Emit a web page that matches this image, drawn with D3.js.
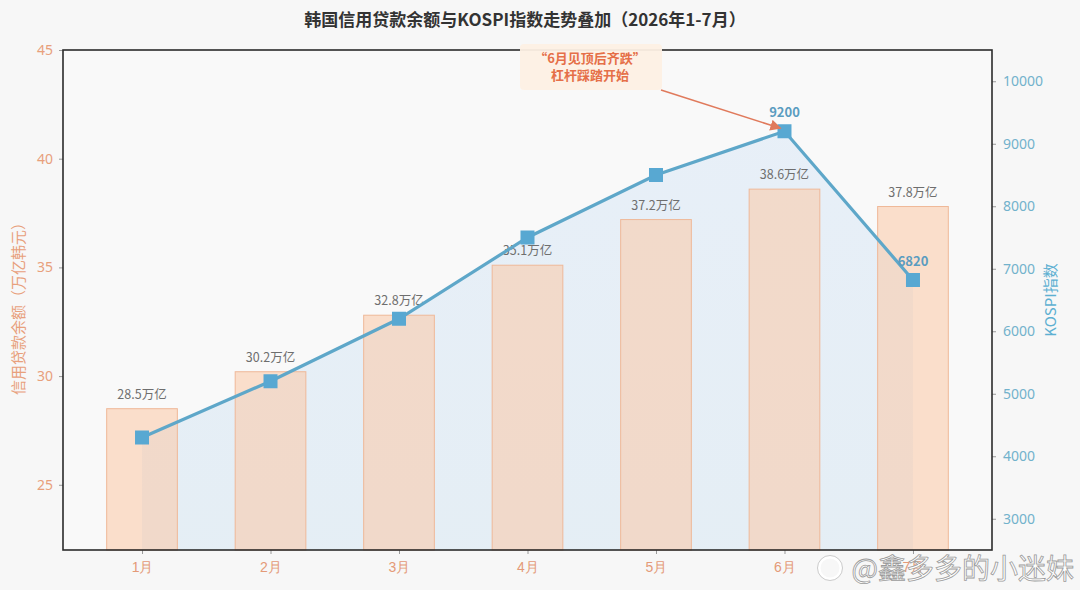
<!DOCTYPE html>
<html><head><meta charset="utf-8">
<script src="https://cdn.jsdelivr.net/npm/d3@7"></script>
<style>
body{margin:0;background:#f7f7f7;font-family:"Noto Sans CJK SC","Noto Sans",sans-serif;}
</style></head>
<body><svg id="c" width="1080" height="590"></svg>
<script>
const months = ["1月","2月","3月","4月","5月","6月","7月"];
const credit = [28.5,30.2,32.8,35.1,37.2,38.6,37.8];
const kospi = [4300,5200,6200,7500,8500,9200,6820];
const creditLabels = ["28.5万亿","30.2万亿","32.8万亿","35.1万亿","37.2万亿","38.6万亿","37.8万亿"];
const leftTicks = [25,30,35,40,45];
const rightTicks = [3000,4000,5000,6000,7000,8000,9000,10000];
const kospiLabelled = ["6月","7月"];

const svg = d3.select("#c");
const m = {l:63, r:88, t:50, b:40};
const W = 1080, H = 590;
const w = W - m.l - m.r, h = H - m.t - m.b;

svg.append("rect").attr("width",W).attr("height",H).attr("fill","#f7f7f7");
const g = svg.append("g").attr("transform",`translate(${m.l},${m.t})`);
g.append("rect").attr("width",w).attr("height",h).attr("fill","#f9f9f9");

const x = d3.scalePoint().domain(months).range([0,w]).padding(0.615);
const step = x.step();
const bw = step*0.55;
const yL = d3.scaleLinear().domain([22,45]).range([h,0]);
const yR = d3.scaleLinear().domain([2500,10500]).range([h,0]);

const defs = svg.append("defs");
const grad = defs.append("linearGradient").attr("id","ag").attr("x1",0).attr("y1",0).attr("x2",0).attr("y2",1);
grad.append("stop").attr("offset","0%").attr("stop-color","#e0ebf7").attr("stop-opacity",0.7);
grad.append("stop").attr("offset","100%").attr("stop-color","#e1ecf4").attr("stop-opacity",0.85);

const data = months.map((mo,i)=>({m:mo,c:credit[i],k:kospi[i],cl:creditLabels[i]}));
g.append("path").datum(data)
  .attr("d", d3.area().x(d=>x(d.m)).y0(h).y1(d=>yR(d.k)))
  .attr("fill","url(#ag)");

g.selectAll(".bar").data(data).join("rect")
  .attr("x",d=>x(d.m)-bw/2).attr("y",d=>yL(d.c))
  .attr("width",bw).attr("height",d=>h-yL(d.c))
  .attr("fill","#fcc9a6").attr("fill-opacity",0.55)
  .attr("stroke","#efb898").attr("stroke-width",1);

g.selectAll(".bl").data(data).join("text")
  .attr("x",d=>x(d.m)).attr("y",d=>yL(d.c)-10)
  .attr("text-anchor","middle").attr("font-size",12.5).attr("fill","#6e6e6e")
  .text(d=>d.cl);

g.append("path").datum(data)
  .attr("d", d3.line().x(d=>x(d.m)).y(d=>yR(d.k)))
  .attr("fill","none").attr("stroke","#5ea7c9").attr("stroke-width",3.2);
g.selectAll(".pt").data(data).join("rect")
  .attr("x",d=>x(d.m)-7).attr("y",d=>yR(d.k)-7).attr("width",14).attr("height",14)
  .attr("fill","#58a8d2");
g.selectAll(".kl").data(data.filter(d=>kospiLabelled.includes(d.m))).join("text")
  .attr("x",d=>x(d.m)).attr("y",d=>yR(d.k)-14)
  .attr("text-anchor","middle").attr("font-size",13).attr("font-weight","bold")
  .attr("fill","#5a9cc0").text(d=>d.k);

const axL = g.append("g").call(d3.axisLeft(yL).tickValues(leftTicks).tickSize(4).tickPadding(6));
axL.selectAll("text").attr("fill","#e8a07c").attr("font-size",14).attr("font-family","Noto Sans, sans-serif");
axL.selectAll("line").attr("stroke","#999");
axL.select(".domain").remove();
const axR = g.append("g").attr("transform",`translate(${w},0)`)
  .call(d3.axisRight(yR).tickValues(rightTicks).tickFormat(d3.format("d")).tickSize(4).tickPadding(7));
axR.selectAll("text").attr("fill","#72b2cc").attr("font-size",14).attr("font-family","Noto Sans, sans-serif");
axR.selectAll("line").attr("stroke","#999");
axR.select(".domain").remove();
const axB = g.append("g").attr("transform",`translate(0,${h})`).call(d3.axisBottom(x).tickSize(4).tickPadding(8));
axB.selectAll("text").attr("fill","#e49a78").attr("font-size",14);
axB.selectAll("line").attr("stroke","#999");
axB.select(".domain").remove();

g.append("rect").attr("width",w).attr("height",h).attr("fill","none").attr("stroke","#2b2b2b").attr("stroke-width",1.6);

svg.append("text").attr("transform","translate(24,305) rotate(-90)")
  .attr("text-anchor","middle").attr("font-size",15).attr("fill","#e8a07c")
  .text("信用贷款余额（万亿韩元）");
svg.append("text").attr("transform","translate(1056,300) rotate(-90)")
  .attr("text-anchor","middle").attr("font-size",15).attr("fill","#5eb0d2")
  .text("KOSPI指数");

svg.append("text").attr("x",525).attr("y",26).attr("text-anchor","middle")
  .attr("font-size",17).attr("font-weight","bold").attr("fill","#333")
  .text("韩国信用贷款余额与KOSPI指数走势叠加（2026年1-7月）");

const ax = 590;
svg.append("rect").attr("x",520).attr("y",44).attr("width",142).attr("height",46).attr("rx",4)
  .attr("fill","#fdf0e4").attr("opacity",0.95);
svg.append("text").attr("x",ax).attr("y",63).attr("text-anchor","middle")
  .attr("font-size",13).attr("font-weight","bold").attr("fill","#e56f48").text("“6月见顶后齐跌”");
svg.append("text").attr("x",ax).attr("y",80).attr("text-anchor","middle")
  .attr("font-size",13).attr("font-weight","bold").attr("fill","#e56f48").text("杠杆踩踏开始");
defs.append("marker").attr("id","arr").attr("viewBox","0 0 10 10").attr("refX",9).attr("refY",5)
  .attr("markerWidth",7).attr("markerHeight",7).attr("orient","auto")
  .append("path").attr("d","M0,0L10,5L0,10z").attr("fill","#e07a5c");
const px = m.l + x("6月"), py = m.t + yR(9200);
svg.append("line").attr("x1",661).attr("y1",90).attr("x2",px-4).attr("y2",py-3)
  .attr("stroke","#e07a5c").attr("stroke-width",1.6).attr("marker-end","url(#arr)");

// watermark
const wm = svg.append("g");
wm.append("circle").attr("cx",830).attr("cy",568).attr("r",11).attr("fill","none").attr("stroke","#fff").attr("stroke-width",3);
wm.append("circle").attr("cx",830).attr("cy",568).attr("r",12.5).attr("fill","none").attr("stroke","#aaa").attr("stroke-width",0.6);
wm.append("text").attr("x",1074).attr("y",579).attr("text-anchor","end")
  .attr("font-size",28).attr("fill","#ffffff").attr("stroke","#9a9a9a").attr("stroke-width",0.8)
  .text("@鑫多多的小迷妹");
</script></body></html>
